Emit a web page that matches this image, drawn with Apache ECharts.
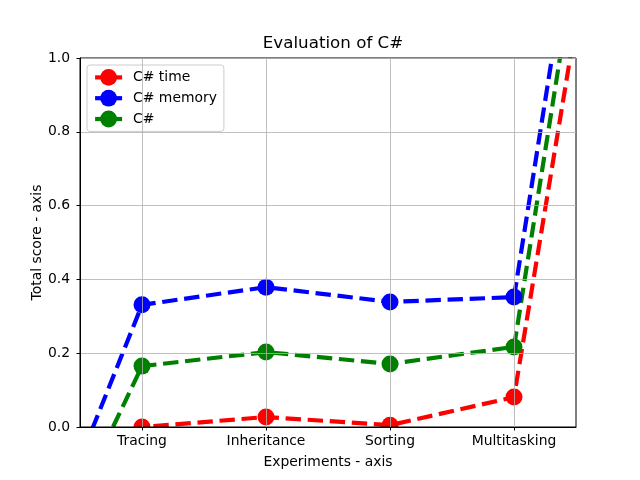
<!DOCTYPE html>
<html><head><meta charset="utf-8">
<script src="https://cdn.jsdelivr.net/npm/echarts@6/dist/echarts.min.js"></script>
<style>html,body{margin:0;padding:0;background:#fff}#c{width:640px;height:480px}</style>
</head><body><div id="c"></div>
<script>
const categories = ['Tracing', 'Inheritance', 'Sorting', 'Multitasking'];
// x positions: -1 and 4 are off-axis points that run out of view
const xPositions = [-1, 0, 1, 2, 3, 4];
const timeValues = [-0.6, 0.0, 0.027, 0.005, 0.081, 2.11];
const memoryValues = [-0.507, 0.331, 0.379, 0.339, 0.352, 2.47];
const totalValues = [-0.54, 0.165, 0.203, 0.171, 0.217, 2.33];

const pairs = vals => xPositions.map((x, i) => [x, vals[i]]);
const font = 'DejaVu Sans';
const fs = 13.9;

function mk(name, color, vals) {
  return {
    name, type: 'line', data: pairs(vals), z: 2,
    symbol: 'circle', symbolSize: 17, clip: true,
    lineStyle: { color, width: 4.2, type: [15.4, 6.7], cap: 'butt' },
    itemStyle: { color },
    emphasis: { disabled: true }, animation: false
  };
}

const chart = echarts.init(document.getElementById('c'), null, { renderer: 'canvas' });
chart.setOption({
  animation: false,
  title: {
    text: 'Evaluation of C#', left: 328, top: 30, textAlign: 'center', z: 10,
    textStyle: { fontFamily: font, fontSize: 16.7, fontWeight: 'normal', color: '#000' }
  },
  grid: { left: 80, right: 64, top: 58, bottom: 53, show: true, borderColor: '#000', borderWidth: 1, z: 10 },
  legend: {
    orient: 'vertical', left: 87, top: 65, z: 10,
    padding: [4, 7, 4, 6], itemGap: 4, itemWidth: 27, itemHeight: 21,
    borderColor: '#cccccc', borderWidth: 1, borderRadius: 3,
    backgroundColor: 'rgba(255,255,255,0.8)',
    lineStyle: { type: 'solid', width: 4.2 },
    textStyle: { fontFamily: font, fontSize: fs, color: '#000', padding: [0, 0, 0, 6] },
    data: ['C# time', 'C# memory', 'C#']
  },
  xAxis: {
    type: 'value', min: -0.5, max: 3.5, interval: 0.5, z: 10,
    name: 'Experiments - axis', nameLocation: 'middle', nameGap: 28, nameMoveOverlap: false,
    nameTextStyle: { fontFamily: font, fontSize: fs, color: '#000' },
    axisLine: { show: true, onZero: false, lineStyle: { color: '#000', width: 1 } },
    axisTick: { show: true, inside: false, length: 3.5, customValues: [0, 1, 2, 3], lineStyle: { color: '#000' } },
    axisLabel: { customValues: [0, 1, 2, 3], formatter: v => categories[Math.round(v)] || '', margin: 7,
      fontFamily: font, fontSize: fs, color: '#000' },
    splitLine: { show: true, lineStyle: { color: '#b0b0b0', width: 0.8 } }
  },
  yAxis: {
    type: 'value', min: 0, max: 1, interval: 0.2, z: 10,
    name: 'Total score - axis', nameLocation: 'middle', nameGap: 36, nameMoveOverlap: false,
    nameTextStyle: { fontFamily: font, fontSize: fs, color: '#000' },
    axisLine: { show: true, onZero: false, lineStyle: { color: '#000', width: 1 } },
    axisTick: { show: true, length: 3.5, lineStyle: { color: '#000' } },
    axisLabel: { formatter: v => v.toFixed(1), margin: 10, fontFamily: font, fontSize: fs, color: '#000' },
    splitLine: { show: true, lineStyle: { color: '#b0b0b0', width: 0.8 } }
  },
  graphic: [
    { type: 'rect', z: 5, silent: true, shape: { x: 0, y: 427.6, width: 640, height: 60 }, style: { fill: '#fff' } },
    { type: 'rect', z: 5, silent: true, shape: { x: 0, y: 0, width: 640, height: 57.5 }, style: { fill: '#fff' } }
  ],
  series: [
    mk('C# time', '#ff0000', timeValues),
    mk('C# memory', '#0000ff', memoryValues),
    mk('C#', '#008000', totalValues)
  ]
});
</script></body></html>
